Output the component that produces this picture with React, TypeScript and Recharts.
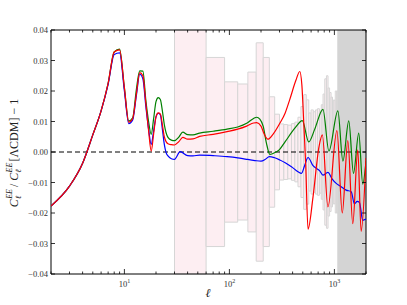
import { LineChart, Line, XAxis, YAxis, ReferenceArea, ReferenceLine } from 'recharts';

// multipoles and relative residuals
const greenEll = [2, 3, 4, 5, 6, 7, 8, 9, 10, 11, 12, 13, 14, 15, 16, 17, 18, 19, 20, 21, 22, 23, 24, 26, 28, 30, 33, 36, 40, 45, 52, 70, 95, 120, 146, 170, 182, 195, 210, 225, 243, 260, 300, 340, 420, 495, 570, 650, 778, 887, 1079, 1205, 1371, 1520, 1706, 1862, 2000];
const greenVal = [-0.0177, -0.0112, -0.0037, 0.0056, 0.0135, 0.0225, 0.0328, 0.0337, 0.021, 0.0102, 0.0112, 0.0205, 0.0266, 0.0265, 0.017, 0.01, 0.0058, 0.011, 0.0165, 0.0178, 0.0172, 0.0135, 0.009, 0.0048, 0.0039, 0.0037, 0.0049, 0.0065, 0.0057, 0.0056, 0.0062, 0.0068, 0.0075, 0.0082, 0.0094, 0.011, 0.0114, 0.0108, 0.0084, 0.003, -0.0008, -0.0005, 0.0008, 0.0034, 0.0078, 0.0103, 0.0033, 0.0075, 0.014, 0.0003, 0.0135, -0.003, 0.0102, -0.007, 0.0062, -0.0105, -0.003];

const redEll = [2, 3, 4, 5, 6, 7, 8, 9, 10, 11, 12, 13, 14, 15, 16, 17, 18, 19, 20, 21, 22, 23, 24, 26, 28, 30, 33, 36, 40, 45, 52, 70, 95, 120, 146, 170, 182, 200, 215, 232, 260, 302, 340, 375, 430, 468, 490, 510, 533, 561, 626, 713, 768, 868, 1057, 1188, 1343, 1497, 1670, 1798, 2000];
const redVal = [-0.0177, -0.0112, -0.0037, 0.0056, 0.0135, 0.0225, 0.0328, 0.0335, 0.021, 0.0098, 0.011, 0.019, 0.026, 0.025, 0.016, 0.007, 0.0003, 0.006, 0.0115, 0.0128, 0.0125, 0.009, 0.005, 0.0027, 0.0024, 0.0023, 0.0034, 0.0048, 0.0042, 0.0043, 0.0051, 0.0058, 0.0067, 0.0075, 0.0085, 0.0095, 0.0096, 0.0085, 0.0058, 0.0042, 0.0058, 0.0094, 0.0128, 0.0171, 0.0235, 0.0264, 0.022, 0.01, -0.004, -0.0253, -0.0147, 0.0017, 0.0056, -0.018, 0.007, -0.02, 0.0037, -0.0235, 0.0007, -0.026, -0.002];

const blueEll = [2, 3, 4, 5, 6, 7, 8, 9, 10, 11, 12, 13, 14, 15, 16, 17, 18, 19, 20, 21, 22, 23, 24, 25, 26, 28, 30, 34, 40, 45, 52, 70, 95, 120, 146, 175, 200, 220, 240, 270, 302, 340, 390, 451, 486, 520, 561, 626, 726, 778, 868, 950, 1041, 1150, 1295, 1446, 1551, 1650, 1734, 1862, 2000];
const blueVal = [-0.0177, -0.0112, -0.0037, 0.0056, 0.0135, 0.0222, 0.032, 0.0325, 0.02, 0.0093, 0.0105, 0.0185, 0.0255, 0.024, 0.015, 0.0075, 0.0025, 0.007, 0.0115, 0.0127, 0.0122, 0.0075, 0.0025, -0.0003, -0.0013, -0.0022, -0.0024, 0.0001, -0.0012, -0.0013, -0.001, -0.0012, -0.0015, -0.0019, -0.0024, -0.0028, -0.003, -0.0024, -0.0015, -0.0019, -0.0026, -0.0035, -0.0048, -0.0065, -0.007, -0.0045, -0.0018, -0.0045, -0.0062, -0.0076, -0.0067, -0.0088, -0.0103, -0.0113, -0.0125, -0.013, -0.017, -0.0162, -0.0166, -0.0224, -0.022];

// binned error boxes (bin start, half-height)
const binStart = [60, 90, 120, 150, 180, 210, 240, 270, 300, 330, 360, 390, 420, 450, 480, 510, 540, 570, 600, 630, 660, 690, 720, 750, 780, 810, 840, 870, 900, 930, 960, 990, 1020, 1050];
const binErr = [0.031, 0.023, 0.0223, 0.0262, 0.0358, 0.031, 0.0181, 0.0124, 0.0092, 0.009, 0.0088, 0.0093, 0.0098, 0.0114, 0.0149, 0.0188, 0.0171, 0.0128, 0.0138, 0.0132, 0.0138, 0.0142, 0.0135, 0.0155, 0.019, 0.024, 0.025, 0.021, 0.0195, 0.018, 0.017, 0.017, 0.02, 0.02];
const binWidth = 30;
const lowBand = [30, 60];
const highBand = [1065, 2000];

const xTicks = [2, 3, 4, 5, 6, 7, 8, 9, 10, 20, 30, 40, 50, 60, 70, 80, 90, 100, 200, 300, 400, 500, 600, 700, 800, 900, 1000, 2000];
const xMajor = [10, 100, 1000];
const yTicks = [-0.04, -0.03, -0.02, -0.01, 0, 0.01, 0.02, 0.03, 0.04];

const W = 407;
const H = 305;
const PLOT = { left: 51, top: 30, right: 366, bottom: 274 };
const Y_AXIS_W = 40;
const X_AXIS_H = 24;
const FONT = '"Liberation Serif", "DejaVu Serif", serif';

const toRows = (ell: number[], val: number[]) => ell.map((l, i) => ({ ell: l, v: val[i] }));
const green = toRows(greenEll, greenVal);
const red = toRows(redEll, redVal);
const blue = toRows(blueEll, blueVal);

const XTick = (props: any) => {
  const { x, payload } = props;
  const v = payload.value;
  const major = xMajor.includes(v);
  const len = major ? 5 : 2.5;
  return (
    <g>
      <line x1={x} x2={x} y1={PLOT.bottom} y2={PLOT.bottom - len} stroke="#000" strokeWidth={0.8} />
      <line x1={x} x2={x} y1={PLOT.top} y2={PLOT.top + len} stroke="#000" strokeWidth={0.8} />
      {major && (
        <text x={x} y={PLOT.bottom + 13} textAnchor="middle" fontFamily={FONT} fontSize={8.5} fill="#333">
          10
          <tspan dy={-4} fontSize={6}>{Math.round(Math.log10(v))}</tspan>
        </text>
      )}
    </g>
  );
};

const YTick = (props: any) => {
  const { y, payload } = props;
  const v = payload.value as number;
  const s = (v < 0 ? '\u2212' : '') + Math.abs(v).toFixed(2);
  return (
    <g>
      <line x1={PLOT.left} x2={PLOT.left + 4} y1={y} y2={y} stroke="#000" strokeWidth={0.8} />
      <line x1={PLOT.right} x2={PLOT.right - 4} y1={y} y2={y} stroke="#000" strokeWidth={0.8} />
      <text x={PLOT.left - 3} y={y + 3} textAnchor="end" fontFamily={FONT} fontSize={8.5} fill="#333">
        {s}
      </text>
    </g>
  );
};

const YLabel = () => (
  <text transform="translate(18,153) rotate(-90)" textAnchor="middle" fontFamily={FONT} fontSize={12} fill="#222">
    <tspan fontStyle="italic">C</tspan>
    <tspan fontSize={8} dy={3} fontStyle="italic">ℓ</tspan>
    <tspan fontSize={8} dx={-3} dy={-9} fontStyle="italic">EE</tspan>
    <tspan dy={6} dx={2}>/</tspan>
    <tspan fontStyle="italic" dx={3}>C</tspan>
    <tspan fontSize={8} dy={3} fontStyle="italic">ℓ</tspan>
    <tspan fontSize={8} dx={-3} dy={-9} fontStyle="italic">EE</tspan>
    <tspan dy={6} dx={1}>{'[ΛCDM] \u2212 1'}</tspan>
  </text>
);

const XLabel = () => (
  <text x={208} y={297} textAnchor="middle" fontFamily={FONT} fontSize={12} fontStyle="italic" fill="#222">
    ℓ
  </text>
);

export default function App() {
  return (
    <div style={{ position: 'absolute', left: 0, top: 0, width: W, height: H, background: '#fff' }}>
      <LineChart
        width={W}
        height={H}
        margin={{
          top: PLOT.top,
          right: W - PLOT.right,
          bottom: H - PLOT.bottom - X_AXIS_H,
          left: PLOT.left - Y_AXIS_W,
        }}
      >
        <XAxis
          dataKey="ell"
          type="number"
          scale="log"
          domain={[2, 2000]}
          allowDataOverflow
          ticks={xTicks}
          interval={0}
          tick={<XTick />}
          tickLine={false}
          axisLine={false}
          height={X_AXIS_H}
          label={<XLabel />}
        />
        <YAxis
          type="number"
          domain={[-0.04, 0.04]}
          allowDataOverflow
          ticks={yTicks}
          interval={0}
          tick={<YTick />}
          tickLine={false}
          axisLine={false}
          width={Y_AXIS_W}
          label={<YLabel />}
        />
        <ReferenceArea
          x1={lowBand[0]}
          x2={lowBand[1]}
          y1={-0.04}
          y2={0.04}
          fill="#fdeef2"
          fillOpacity={1}
          stroke="#d6d6d6"
          strokeWidth={1}
        />
        {binStart.map((s, i) => (
          <ReferenceArea
            key={s}
            x1={s}
            x2={s + binWidth}
            y1={-binErr[i]}
            y2={binErr[i]}
            fill="#fdeef2"
            fillOpacity={1}
            stroke="#d6d6d6"
            strokeWidth={1}
          />
        ))}
        <ReferenceArea
          x1={highBand[0]}
          x2={highBand[1]}
          y1={-0.04}
          y2={0.04}
          fill="#d4d4d4"
          fillOpacity={1}
          stroke="none"
        />
        <ReferenceLine y={0} stroke="#000" strokeWidth={1} strokeDasharray="5 3" />
        <Line data={green} dataKey="v" type="monotone" stroke="#008000" strokeWidth={1.2} dot={false} isAnimationActive={false} />
        <Line data={blue} dataKey="v" type="monotone" stroke="#0000ff" strokeWidth={1.2} dot={false} isAnimationActive={false} />
        <Line data={red} dataKey="v" type="monotone" stroke="#ff0000" strokeWidth={1.2} dot={false} isAnimationActive={false} />
        <ReferenceArea x1={2} x2={2000} y1={-0.04} y2={0.04} fill="none" stroke="#000" strokeWidth={1} />
      </LineChart>
    </div>
  );
}
